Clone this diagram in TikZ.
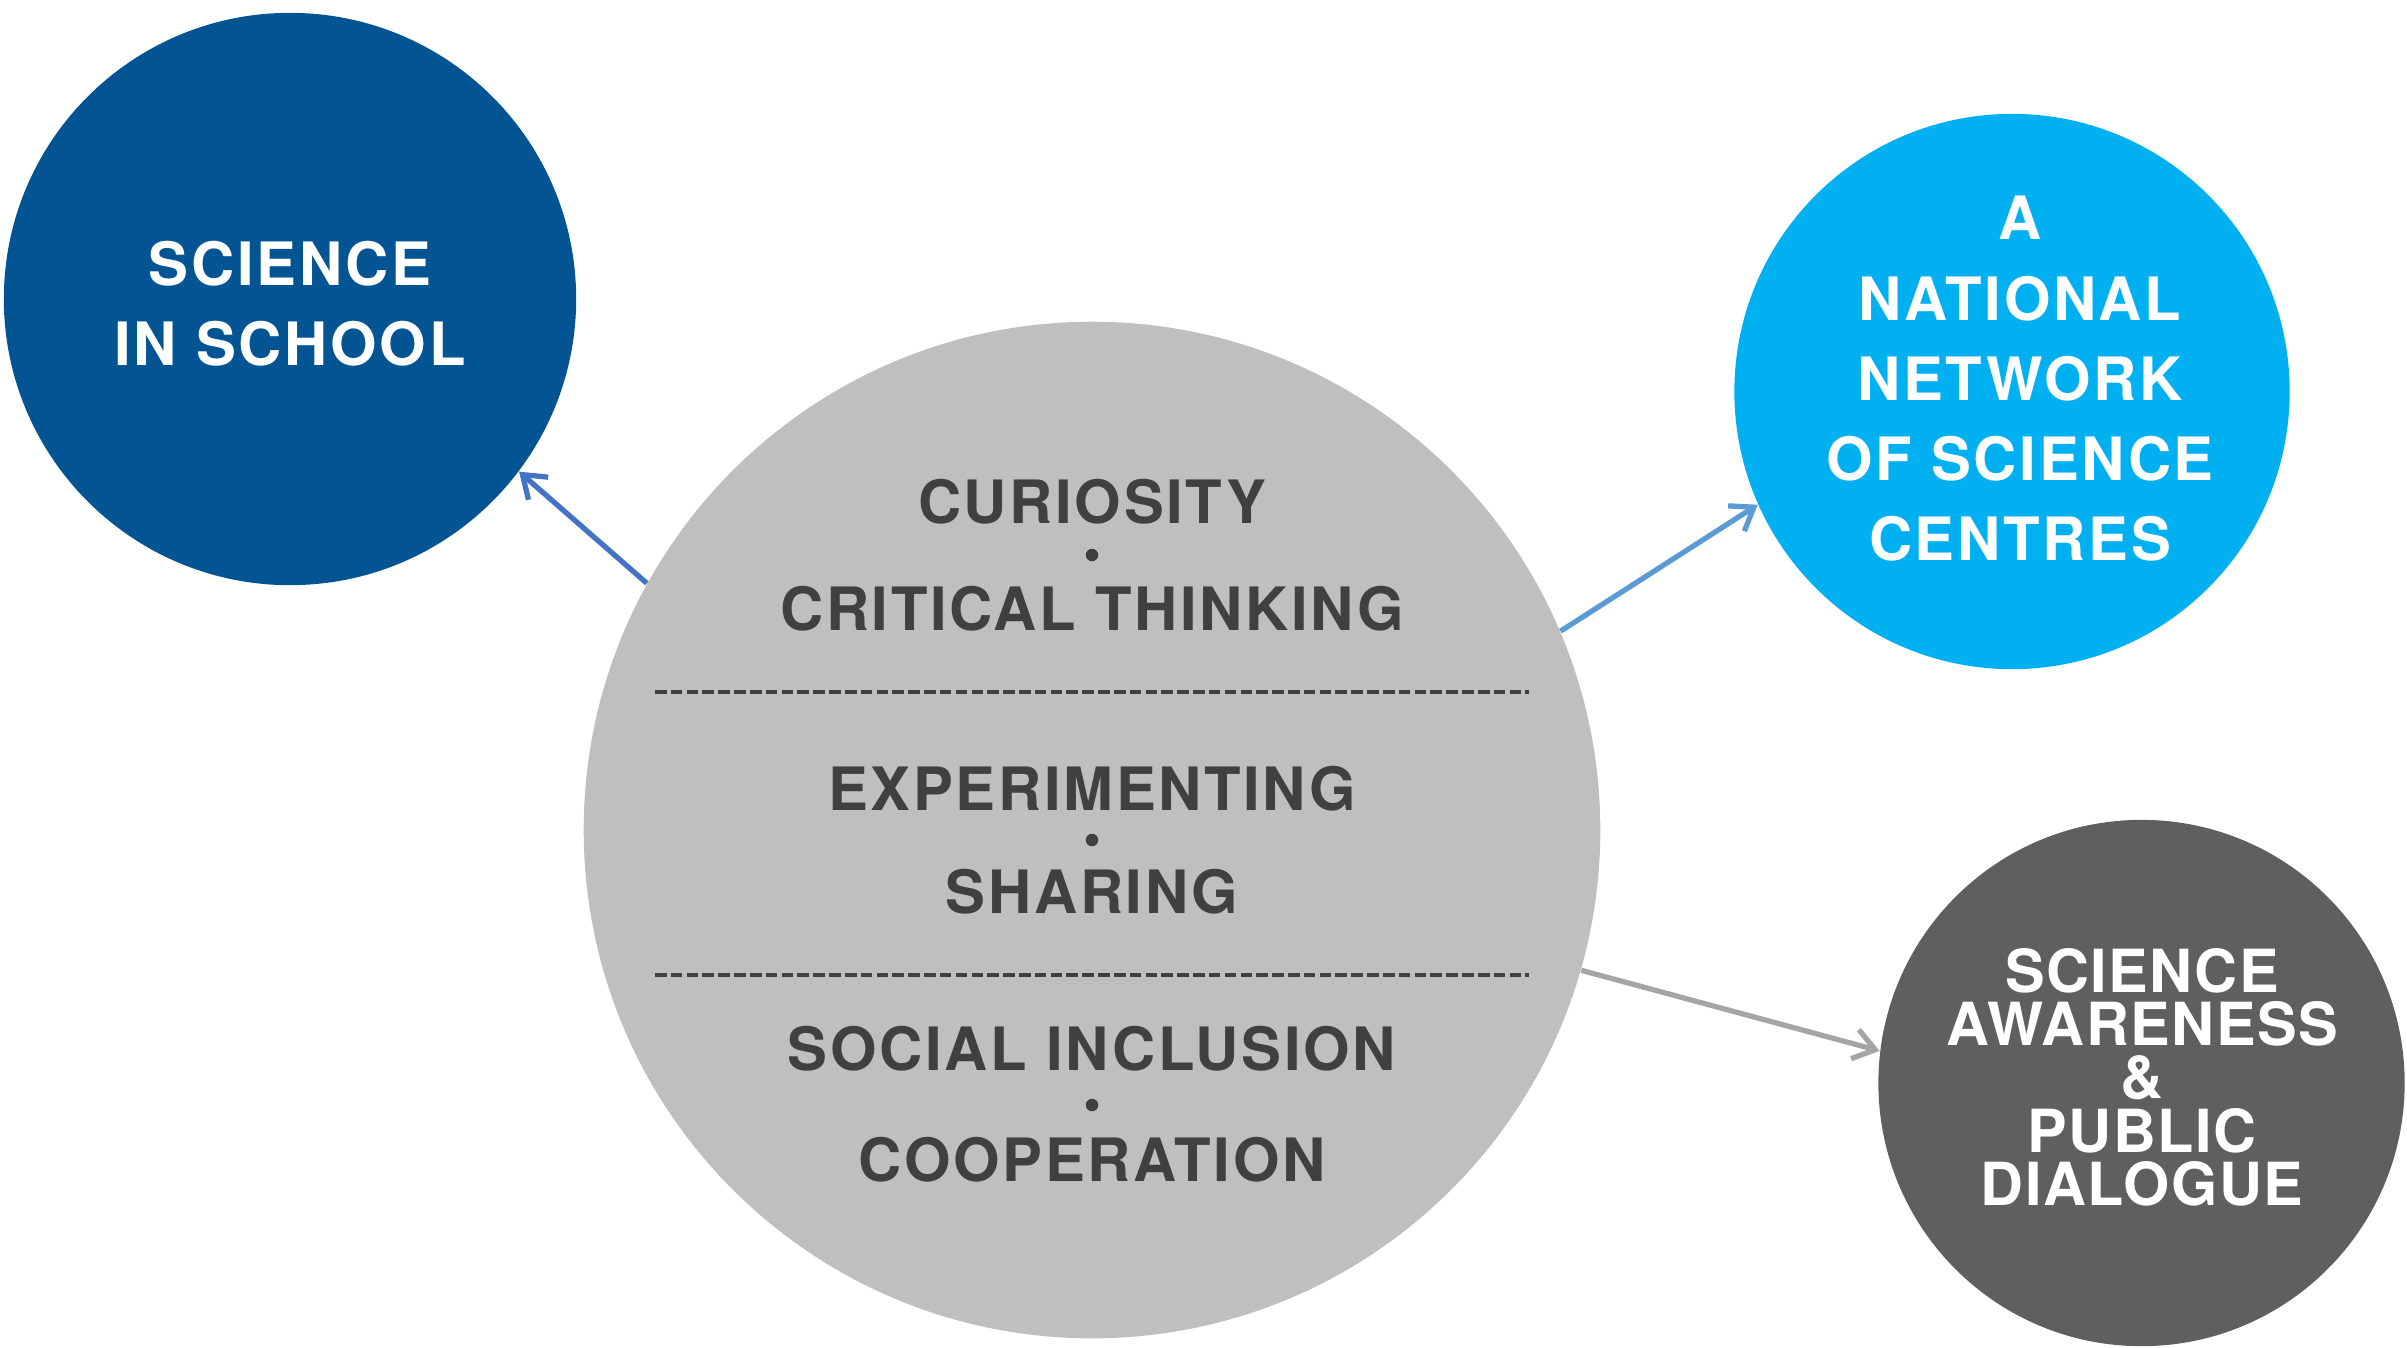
\documentclass[tikz,border=0pt]{standalone}
\usepackage{fontspec}
\setmainfont{TeX Gyre Heros}
\newfontfamily\trk[LetterSpace=4.5]{TeX Gyre Heros}
\newfontfamily\trks[LetterSpace=2.5]{TeX Gyre Heros}
\usetikzlibrary{arrows.meta}
\definecolor{darkblue}{RGB}{2,85,146}
\definecolor{lightblue}{RGB}{0,176,240}
\definecolor{midgray}{RGB}{191,191,191}
\definecolor{darkgrey}{RGB}{95,95,95}
\definecolor{txtgray}{RGB}{64,64,64}
\definecolor{arrA}{RGB}{68,114,196}
\definecolor{arrB}{RGB}{91,155,213}
\definecolor{arrC}{RGB}{165,165,165}
\begin{document}
\begin{tikzpicture}[x=0.01cm,y=-0.01cm,
  disc/.style={circle,inner sep=0pt,minimum size=#1},
  wtxt/.style={anchor=base,inner sep=0pt,text=white,font=\trk\bfseries\fontsize{17pt}{17pt}\selectfont},
  wtxts/.style={anchor=base,inner sep=0pt,text height=12pt,text depth=0pt,text=white,font=\trks\bfseries\fontsize{16.9pt}{17pt}\selectfont},
  gtxt/.style={anchor=base,inner sep=0pt,text=txtgray,font=\trk\bfseries\fontsize{17pt}{17pt}\selectfont},
  bullet/.style={circle,fill=txtgray,inner sep=0pt,minimum size=0.125cm},
  dashline/.style={draw=txtgray,line width=1.35pt,dash pattern=on 3.3pt off 1.2pt},
  conn/.style={line width=1.5pt,-{Straight Barb[length=0.21cm,width=0.3cm,line width=1.5pt]}}
]
\useasboundingbox (0,0) rectangle (2407,1347);
% circles
\node[disc=5.72cm,fill=darkblue] (school) at (290,299) {};
\node[disc=5.55cm,fill=lightblue] (network) at (2012,391.5) {};
\node[disc=5.26cm,fill=darkgrey] (aware) at (2141.5,1083) {};
\node[disc=10.16cm,fill=midgray] (core) at (1092,830) {};
% connectors
\draw[conn,arrA] (core.151) -- (school.-37.6);
\draw[conn,arrB] (core.23.4) -- (network.204.1);
\draw[conn,arrC] (core.-16.9) -- (aware.173.3);
% science in school
\node[wtxt] (s1) at (290,285.5) {SCIENCE};
\node[wtxt] (s2) at (290,365.5) {IN SCHOOL};
% network
\node[wtxt] (n1) at (2020,239.7) {A};
\node[wtxt] (n2) at (2020,320) {NATIONAL};
\node[wtxt] (n3) at (2020,400.4) {NETWORK};
\node[wtxt] (n4) at (2020,480.8) {OF SCIENCE};
\node[wtxt] (n5) at (2020,560) {CENTRES};
% awareness
\node[wtxts] (a1) at (2142,992) {SCIENCE};
\node[wtxts] (a2) at (2142,1045) {AWARENESS};
\node[wtxts] (a3) at (2142,1098) {\&};
\node[wtxts] (a4) at (2142,1152) {PUBLIC};
\node[wtxts] (a5) at (2142,1205) {DIALOGUE};
% core text
\node[gtxt] (c1) at (1092,523) {CURIOSITY};
\node[bullet] (b1) at (1092,555) {};
\node[gtxt] (c2) at (1092,630) {CRITICAL THINKING};
\draw[dashline] (655,692) -- (1529,692);
\node[gtxt] (c3) at (1092,810) {EXPERIMENTING};
\node[bullet] (b2) at (1092,840) {};
\node[gtxt] (c4) at (1092,913) {SHARING};
\draw[dashline] (655,975) -- (1529,975);
\node[gtxt] (c5) at (1092,1070) {SOCIAL INCLUSION};
\node[bullet] (b3) at (1092,1105) {};
\node[gtxt] (c6) at (1092,1181) {COOPERATION};
\end{tikzpicture}
\end{document}
